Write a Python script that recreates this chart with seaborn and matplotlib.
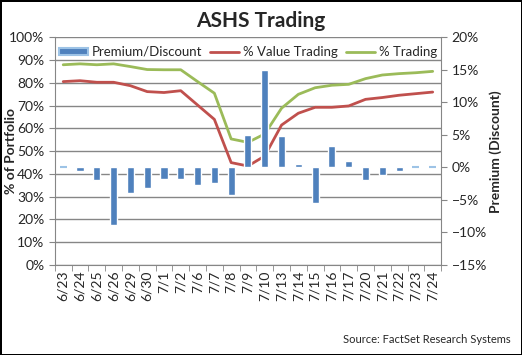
import numpy as np
import pandas as pd
from matplotlib import pyplot as plt
from matplotlib.ticker import MultipleLocator, PercentFormatter, FixedLocator
import seaborn as sns

sns.set_style("white")
plt.rcParams['font.family'] = ['Lato', 'DejaVu Sans']

# data
dates = ['6/23', '6/24', '6/25', '6/26', '6/29', '6/30', '7/1', '7/2', '7/6', '7/7',
         '7/8', '7/9', '7/10', '7/13', '7/14', '7/15', '7/16', '7/17', '7/20', '7/21',
         '7/22', '7/23', '7/24']
premium = [0.0, -0.6, -2.0, -8.8, -4.0, -3.1, -1.7, -1.7, -2.7, -2.4,
           -4.3, 5.0, 15.0, 4.8, 0.6, -5.4, 3.3, 1.0, -1.9, -1.1,
           -0.6, 0.0, 0.0]
value_trading = [80.6, 81.0, 80.3, 80.3, 78.8, 76.2, 75.8, 76.6, 70.3, 64.0,
                 45.0, 43.5, 47.9, 61.5, 66.7, 69.3, 69.3, 69.9, 72.8, 73.6,
                 74.6, 75.3, 76.0]
pct_trading = [88.0, 88.4, 88.0, 88.4, 87.2, 85.9, 85.8, 85.8, 80.6, 75.5,
               55.4, 53.9, 57.6, 68.9, 75.0, 77.9, 79.0, 79.4, 81.9, 83.5,
               84.1, 84.5, 85.1]

df = pd.DataFrame({'date': dates, 'premium': premium,
                   'value': value_trading, 'trading': pct_trading})
df['pos'] = np.arange(len(df))

blue = '#4F81BD'
red = '#C0504D'
green = '#9BBB59'
grey = '#868686'

fig = plt.figure(figsize=(5.22, 3.55), dpi=100, edgecolor='black', linewidth=2)
ax = fig.add_axes([0.105, 0.2535, 0.74, 0.641])
ax2 = ax.twinx()

# lines on left axis
sns.lineplot(data=df, x='pos', y='value', ax=ax, color=red, linewidth=2, label='% Value Trading')
sns.lineplot(data=df, x='pos', y='trading', ax=ax, color=green, linewidth=2, label='% Trading')

# bars on right axis
sns.barplot(data=df, x='date', y='premium', ax=ax2, color=blue, width=0.42,
            saturation=1, zorder=3, label='Premium/Discount')
for p in ax2.patches:
    if p.get_height() == 0:
        p.set_edgecolor('#9DC3E6')
        p.set_linewidth(1.5)

ax.set_xlim(-0.5, len(dates) - 0.5)
ax.set_ylim(0, 100)
ax.yaxis.set_major_locator(MultipleLocator(10))
ax.yaxis.set_major_formatter(PercentFormatter(decimals=0))
ax.grid(axis='y', color=grey, linewidth=1)
ax.set_axisbelow(True)

ax2.set_ylim(-15, 20)
ax2.yaxis.set_major_locator(MultipleLocator(5))
ax2.yaxis.set_major_formatter(PercentFormatter(decimals=0))
ax2.grid(False)

ax.set_xticks(df['pos'])
ax.set_xticklabels(dates, rotation=90, fontsize=10)
ax.xaxis.set_minor_locator(FixedLocator(np.arange(-0.5, len(dates), 1)))
ax.tick_params(axis='x', which='major', length=0, pad=4)
ax.tick_params(axis='x', which='minor', length=4, color=grey, direction='out', bottom=True)
ax.tick_params(axis='y', length=4, color=grey, direction='out', left=True, labelsize=10)
ax2.tick_params(axis='y', length=4, color=grey, direction='out', right=True, labelsize=10)

for a in (ax, ax2):
    for s in a.spines.values():
        s.set_visible(False)
ax.spines['left'].set_visible(True)
ax.spines['bottom'].set_visible(True)
ax2.spines['right'].set_visible(True)
for s in ('left', 'bottom'):
    ax.spines[s].set_color(grey)
ax2.spines['right'].set_color(grey)

ax.set_xlabel('')
ax.set_ylabel('% of Portfolio', fontsize=10, fontweight='bold')
ax.yaxis.set_label_coords(-0.097, 0.5)
ax2.set_xlabel('')
ax2.set_ylabel('Premium (Discount)', fontsize=10, fontweight='bold')
ax2.yaxis.set_label_coords(1.125, 0.5)

h1, l1 = ax.get_legend_handles_labels()
h2, l2 = ax2.get_legend_handles_labels()
ax.get_legend().remove()
leg = ax2.legend(h2 + h1, l2 + l1, loc='upper center', ncol=3, frameon=False,
                 fontsize=9.5, bbox_to_anchor=(0.5, 1.015), handlelength=2.2,
                 handleheight=0.45, handletextpad=0.3, columnspacing=0.6)

fig.text(0.5, 0.94, 'ASHS Trading', ha='center', va='center', fontsize=15, fontweight='bold')
fig.text(0.978, 0.045, 'Source: FactSet Research Systems', ha='right', va='center', fontsize=8)

fig.savefig('out.png', dpi=100)
